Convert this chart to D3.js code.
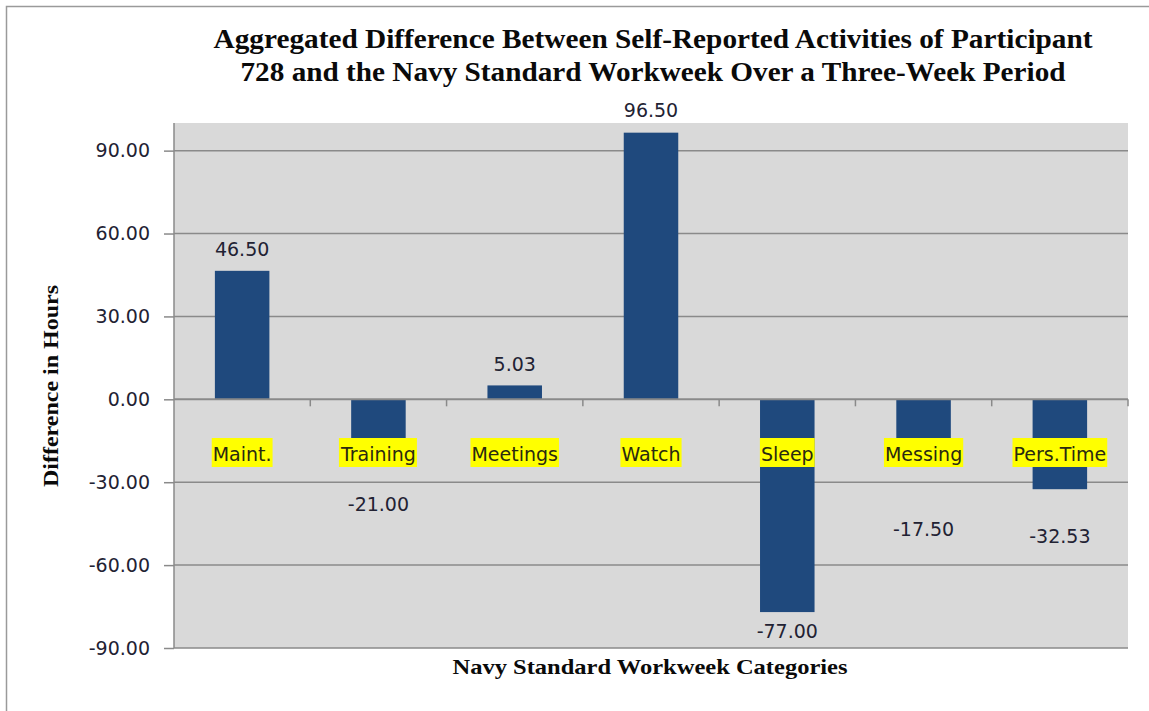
<!DOCTYPE html>
<html>
<head>
<meta charset="utf-8">
<script src="https://cdn.jsdelivr.net/npm/d3@7"></script>
<style>
  html, body { margin: 0; padding: 0; background: #ffffff; }
  svg { display: block; }
</style>
</head>
<body>
<div id="chart"></div>
<script>
// ---- data ----
const categories = ["Maint.", "Training", "Meetings", "Watch", "Sleep", "Messing", "Pers.Time"];
const values = [46.50, -21.00, 5.03, 96.50, -77.00, -17.50, -32.53];
const valueLabels = ["46.50", "-21.00", "5.03", "96.50", "-77.00", "-17.50", "-32.53"];
const yTicks = [-90, -60, -30, 0, 30, 60, 90];
const yTickLabels = ["-90.00", "-60.00", "-30.00", "0.00", "30.00", "60.00", "90.00"];
const yDomain = [-90, 100];
// label gap (px) between bar end and label baseline (manually placed labels in original)
const labelGap = [15, 54, 14, 16, 26, 88, 54];

const titleLines = [
  "Aggregated Difference Between Self-Reported Activities of Participant",
  "728 and the Navy Standard Workweek Over a Three-Week Period"
];
const yTitle = "Difference in Hours";
const xTitle = "Navy Standard Workweek Categories";

// ---- layout ----
const W = 1149, H = 711;
const plot = { left: 174, right: 1128, top: 123, bottom: 648 };

const svg = d3.select("#chart").append("svg")
  .attr("width", W).attr("height", H);

// outer chart border
svg.append("rect")
  .attr("x", 6.5).attr("y", 6.5)
  .attr("width", W + 20).attr("height", H + 20)
  .attr("fill", "#ffffff").attr("stroke", "#9a9a9a").attr("stroke-width", 1.5);

const x = d3.scaleBand().domain(categories).range([plot.left, plot.right]).padding(0);
const y = d3.scaleLinear().domain(yDomain).range([plot.bottom, plot.top]);

// plot background
svg.append("rect")
  .attr("x", plot.left).attr("y", plot.top)
  .attr("width", plot.right - plot.left).attr("height", plot.bottom - plot.top)
  .attr("fill", "#d9d9d9");

// gridlines
svg.append("g").selectAll("line").data(yTicks.filter(d => d !== 0)).join("line")
  .attr("x1", plot.left).attr("x2", plot.right)
  .attr("y1", d => y(d)).attr("y2", d => y(d))
  .attr("stroke", "#8a8a8a").attr("stroke-width", 1.5);

// bars
const barW = x.bandwidth() * 0.4;
svg.append("g").selectAll("rect").data(values).join("rect")
  .attr("x", (d, i) => x(categories[i]) + (x.bandwidth() - barW) / 2)
  .attr("y", d => y(Math.max(0, d)))
  .attr("width", barW)
  .attr("height", d => Math.abs(y(d) - y(0)))
  .attr("fill", "#1f497d");

// y axis
const yAxis = d3.axisLeft(y).tickValues(yTicks)
  .tickFormat((d, i) => yTickLabels[yTicks.indexOf(d)])
  .tickSize(10).tickPadding(14);
const gy = svg.append("g").attr("transform", `translate(${plot.left},0)`).call(yAxis);
gy.select(".domain").attr("stroke", "#8a8a8a").attr("stroke-width", 1.5)
  .attr("d", `M0,${plot.bottom}V${plot.top}`);
gy.selectAll(".tick line").attr("stroke", "#8a8a8a").attr("stroke-width", 1.5);
gy.selectAll(".tick text")
  .attr("font-family", "'DejaVu Sans', Verdana, sans-serif")
  .attr("font-size", 19).attr("fill", "#222233");

// x axis at zero with category boundary ticks
const zeroY = y(0);
svg.append("line")
  .attr("x1", plot.left).attr("x2", plot.right)
  .attr("y1", zeroY).attr("y2", zeroY)
  .attr("stroke", "#8a8a8a").attr("stroke-width", 2);
const boundaries = categories.map(c => x(c) + x.bandwidth());
svg.append("g").selectAll("line").data(boundaries).join("line")
  .attr("x1", d => d).attr("x2", d => d)
  .attr("y1", zeroY).attr("y2", zeroY + 7)
  .attr("stroke", "#8a8a8a").attr("stroke-width", 1.5);

// category labels with yellow highlight
const catG = svg.append("g");
categories.forEach((c, i) => {
  const cx = x(c) + x.bandwidth() / 2;
  const g = catG.append("g");
  const t = g.append("text")
    .attr("x", cx).attr("y", 461)
    .attr("text-anchor", "middle")
    .attr("font-family", "'DejaVu Sans', Verdana, sans-serif")
    .attr("font-size", 19).attr("fill", "#2a2a10")
    .text(c);
  const bb = t.node().getBBox();
  g.insert("rect", "text")
    .attr("x", bb.x - 1).attr("y", 438)
    .attr("width", bb.width + 2).attr("height", 29)
    .attr("fill", "#ffff00");
});

// value labels
svg.append("g").selectAll("text").data(values).join("text")
  .attr("x", (d, i) => x(categories[i]) + x.bandwidth() / 2)
  .attr("y", (d, i) => d >= 0 ? y(d) - labelGap[i] : y(d) + labelGap[i])
  .attr("text-anchor", "middle")
  .attr("font-family", "'DejaVu Sans', Verdana, sans-serif")
  .attr("font-size", 19).attr("fill", "#222233")
  .text((d, i) => valueLabels[i]);

// title
const serif = "'Liberation Serif', 'Times New Roman', serif";
const titleWidths = [879, 825];
const titleBase = [48, 81];
titleLines.forEach((line, i) => {
  svg.append("text")
    .attr("x", 653).attr("y", titleBase[i])
    .attr("text-anchor", "middle")
    .attr("font-family", serif).attr("font-weight", "bold")
    .attr("font-size", 27).attr("fill", "#0a0a0a")
    .attr("textLength", titleWidths[i]).attr("lengthAdjust", "spacingAndGlyphs")
    .text(line);
});

// y axis title
svg.append("text")
  .attr("transform", `translate(58,386) rotate(-90)`)
  .attr("text-anchor", "middle")
  .attr("font-family", serif).attr("font-weight", "bold")
  .attr("font-size", 20).attr("fill", "#0a0a0a")
  .attr("textLength", 202).attr("lengthAdjust", "spacingAndGlyphs")
  .text(yTitle);

// x axis title
svg.append("text")
  .attr("x", 650).attr("y", 674)
  .attr("text-anchor", "middle")
  .attr("font-family", serif).attr("font-weight", "bold")
  .attr("font-size", 21).attr("fill", "#0a0a0a")
  .attr("textLength", 395).attr("lengthAdjust", "spacingAndGlyphs")
  .text(xTitle);
</script>
</body>
</html>
